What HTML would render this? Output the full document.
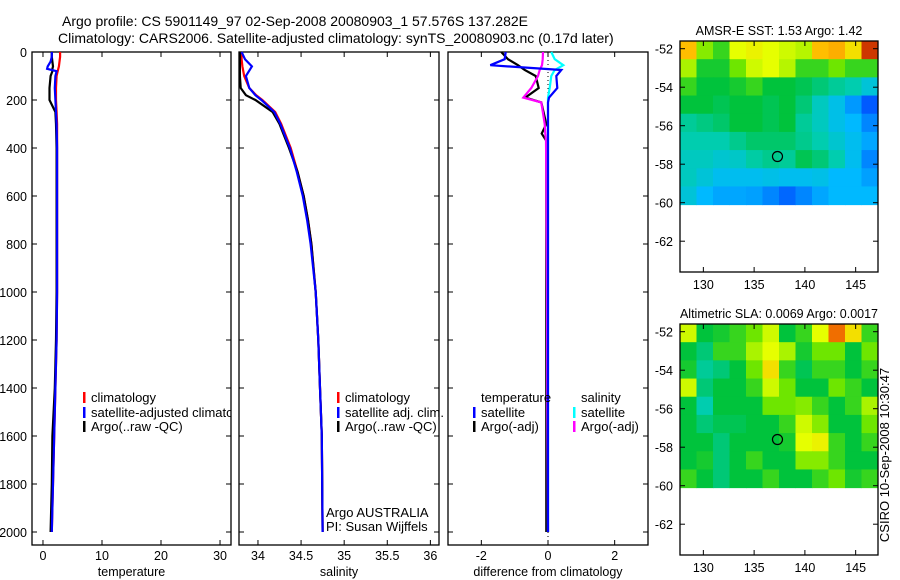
<!DOCTYPE html>
<html><head><meta charset="utf-8"><style>
body{margin:0;background:#fff;}
svg{display:block;font-family:"Liberation Sans",sans-serif;}
</style></head><body>
<svg id="c" width="900" height="580" viewBox="0 0 900 580">
<defs><clipPath id="clipT"><rect x="32" y="52" width="199" height="493"/></clipPath></defs>
<text x="62" y="26" font-size="14">Argo profile: CS 5901149_97 02-Sep-2008 20080903_1 57.576S 137.282E</text>
<text x="58" y="43" font-size="14">Climatology: CARS2006. Satellite-adjusted climatology: synTS_20080903.nc (0.17d later)</text>
<text transform="translate(889,455) rotate(-90)" text-anchor="middle" font-size="13">CSIRO 10-Sep-2008 10:30:47</text>
</svg>
<script>
// ---- data ----
const tDepth=[0,20,40,60,70,80,100,150,200,250,300,400,600,800,1000,1200,1400,1600,1800,2000];
const tClim=[2.9,2.9,2.8,2.7,2.6,2.5,2.3,2.2,2.2,2.3,2.4,2.4,2.4,2.4,2.4,2.3,2.1,1.9,1.7,1.5];
const tSat=[1.5,1.5,1.3,0.8,0.7,2.3,2.1,2.0,2.1,2.2,2.3,2.4,2.4,2.4,2.4,2.3,2.1,1.9,1.7,1.5];
const tArgo=[1.5,1.5,1.6,1.7,1.6,1.6,1.3,1.1,1.1,2.1,2.2,2.3,2.3,2.3,2.3,2.2,2.0,1.6,1.5,1.3];
const sDepth=[0,30,60,100,150,180,200,250,300,400,500,600,700,800,1000,1200,1400,1600,2000];
const sClim=[33.81,33.81,33.82,33.84,33.9,33.98,34.05,34.2,34.27,34.38,34.46,34.53,34.58,34.62,34.67,34.70,34.72,34.74,34.75];
const sSat=[33.81,33.85,33.93,33.86,33.9,33.97,34.04,34.19,34.26,34.37,34.45,34.52,34.57,34.61,34.67,34.70,34.72,34.74,34.75];
const sArgo=[33.79,33.79,33.79,33.79,33.8,33.86,33.97,34.17,34.25,34.36,34.46,34.53,34.58,34.62,34.67,34.70,34.72,34.74,34.75];
const dDepth=[0,30,55,75,100,150,190,210,300,340,370,500,1000,1500,2000];
const dTsat=[-1.27,-1.3,-1.73,0.4,0.25,0.28,0.03,0,0,0,0,0,0,0,0];
const dTargo=[-1.4,-1.2,-0.9,-0.7,-0.37,-0.28,-0.68,-0.2,-0.05,-0.19,-0.05,-0.05,-0.05,-0.05,-0.05];
const dSsat=[0.1,0.2,0.46,0.2,0.1,0.05,0,0,0,0,0,0,0,0,0];
const dSargo=[-0.15,-0.16,-0.18,-0.25,-0.3,-0.5,-0.74,-0.2,-0.1,-0.08,-0.06,-0.05,-0.03,-0.02,0];
const depthTicks=[0,200,400,600,800,1000,1200,1400,1600,1800,2000];
const tTicks=[0,10,20,30];
const sTicks=[34,34.5,35,35.5,36];
const dTicks=[-2,0,2];
const latTicks=[-52,-54,-56,-58,-60,-62];
const lonTicks=[130,135,140,145];
const sstGrid=[
[0.8,0.62,0.55,0.7,0.72,0.7,0.68,0.66,0.8,0.82,0.75,0.95],
[0.65,0.52,0.52,0.6,0.68,0.7,0.66,0.55,0.55,0.6,0.55,0.55],
[0.55,0.5,0.5,0.52,0.55,0.5,0.5,0.48,0.45,0.42,0.4,0.35],
[0.5,0.5,0.48,0.5,0.5,0.48,0.5,0.45,0.38,0.33,0.25,0.15],
[0.42,0.44,0.46,0.5,0.5,0.48,0.5,0.42,0.38,0.33,0.3,0.22],
[0.4,0.4,0.4,0.43,0.46,0.46,0.46,0.43,0.4,0.36,0.32,0.27],
[0.38,0.38,0.36,0.37,0.41,0.43,0.42,0.48,0.45,0.4,0.32,0.22],
[0.38,0.35,0.32,0.32,0.32,0.33,0.32,0.32,0.33,0.3,0.3,0.26],
[0.35,0.3,0.27,0.27,0.26,0.22,0.17,0.22,0.27,0.3,0.3,0.3]];
const slaGrid=[
[0.68,0.5,0.52,0.55,0.6,0.68,0.5,0.55,0.7,0.9,0.75,0.55],
[0.5,0.45,0.55,0.55,0.65,0.7,0.65,0.52,0.6,0.6,0.5,0.6],
[0.52,0.42,0.45,0.5,0.6,0.75,0.55,0.48,0.55,0.55,0.5,0.55],
[0.68,0.45,0.5,0.5,0.55,0.68,0.6,0.5,0.5,0.6,0.55,0.5],
[0.5,0.4,0.5,0.5,0.5,0.6,0.6,0.62,0.55,0.5,0.55,0.65],
[0.5,0.45,0.48,0.48,0.5,0.5,0.55,0.68,0.62,0.5,0.5,0.6],
[0.5,0.5,0.45,0.5,0.5,0.5,0.52,0.7,0.72,0.55,0.5,0.55],
[0.5,0.52,0.45,0.5,0.55,0.5,0.5,0.62,0.62,0.55,0.5,0.5],
[0.55,0.5,0.45,0.5,0.5,0.55,0.5,0.5,0.55,0.6,0.52,0.55]];
const floatLon=137.3, floatLat=-57.6;

const NS="http://www.w3.org/2000/svg";
const svg=document.getElementById('c');
function mk(tag,attrs,parent){const e=document.createElementNS(NS,tag);for(const k in attrs)e.setAttribute(k,attrs[k]);(parent||svg).appendChild(e);return e;}
function txt(x,y,s,size,anchor,parent){const e=mk('text',{x:x,y:y,'font-size':size,'text-anchor':anchor||'start'},parent);e.textContent=s;return e;}

const PT=52,PB=545;
const yD=d=>52+d*0.24;

function panel(name,x0,x1,dmin,dmax,ticks,fmt,title,showY){
  const g=mk('g',{});
  
  
  const xs=v=>x0+(v-dmin)/(dmax-dmin)*(x1-x0);
  const r=mk('rect',{x:x0,y:PT,width:x1-x0,height:PB-PT,fill:'none',stroke:'#000','stroke-width':1.3},g);
  
  
  ticks.forEach(t=>{const X=xs(t);
    mk('line',{x1:X,y1:PB,x2:X,y2:PB-5,stroke:'#000'},g);
    mk('line',{x1:X,y1:PT,x2:X,y2:PT+5,stroke:'#000'},g);
    const l=txt(X,560,fmt(t),12.5,'middle',g);
    
    });
  depthTicks.forEach(d=>{const Y=yD(d);
    mk('line',{x1:x0,y1:Y,x2:x0+5,y2:Y,stroke:'#000'},g);
    mk('line',{x1:x1,y1:Y,x2:x1-5,y2:Y,stroke:'#000'},g);
    if(showY){const l=txt(27,Y+5,String(d),12.5,'end',g);
      
      }});
  const t=txt((x0+x1)/2,576,title,12.5,'middle',g);
  
  
  return {g,xs};
}
function line(p,vals,depths,color,name){
  const pts=vals.map((v,i)=>p.xs(v).toFixed(1)+','+yD(depths[i]).toFixed(1)).join(' ');
  const e=mk('polyline',{points:pts,fill:'none',stroke:color,'stroke-width':2.2},p.g);
  
  
}
function legend(p,x,y,color,label,name,clip){
  mk('rect',{x:x,y:y-10,width:2.5,height:11,fill:color},p.g);
  const t=txt(x+8,y,label,13,'start',p.g);
  if(clip)t.setAttribute('clip-path','url(#clipT)');
  
  
}

const p1=panel('temperature-panel',32,231,-1.86,31.86,tTicks,String,'temperature',true);
line(p1,tClim,tDepth,'#f00','temp-climatology-line');
line(p1,tArgo,tDepth,'#000','temp-argo-line');
line(p1,tSat,tDepth,'#00f','temp-satellite-line');
legend(p1,83,402,'#f00','climatology','legend-climatology');
legend(p1,83,417,'#00f','satellite-adjusted climatology','legend-satellite-adjusted',true);
legend(p1,83,431,'#000','Argo(..raw -QC)','legend-argo');

const p2=panel('salinity-panel',239,439,33.78,36.1,sTicks,String,'salinity',false);
line(p2,sClim,sDepth,'#f00','sal-climatology-line');
line(p2,sArgo,sDepth,'#000','sal-argo-line');
line(p2,sSat,sDepth,'#00f','sal-satellite-line');
legend(p2,337,402,'#f00','climatology','legend-sal-climatology');
legend(p2,337,417,'#00f','satellite adj. clim.','legend-sal-satellite');
legend(p2,337,431,'#000','Argo(..raw -QC)','legend-sal-argo');
let a=txt(326,517,'Argo AUSTRALIA',13,'start',p2.g);


a=txt(326,531,'PI: Susan Wijffels',13,'start',p2.g);



const p3=panel('difference-panel',448,648,-3,3,dTicks,String,'difference from climatology',false);
mk('line',{x1:p3.xs(0),y1:PT,x2:p3.xs(0),y2:PB,stroke:'#000','stroke-dasharray':'1,3'},p3.g);
line(p3,dTargo,dDepth,'#000','diff-temp-argo-line');
line(p3,dSargo,dDepth,'#f0f','diff-sal-argo-line');
line(p3,dSsat,dDepth,'#0ff','diff-sal-satellite-line');
line(p3,dTsat,dDepth,'#00f','diff-temp-satellite-line');
a=txt(481,402,'temperature',13,'start',p3.g);


a=txt(581,402,'salinity',13,'start',p3.g);


legend(p3,473,417,'#00f','satellite','legend-diff-temp-satellite');
legend(p3,473,431,'#000','Argo(-adj)','legend-diff-temp-argo');
legend(p3,573,417,'#0ff','satellite','legend-diff-sal-satellite');
legend(p3,573,431,'#f0f','Argo(-adj)','legend-diff-sal-argo');

// colormap
const stops=[[0,[0,0,170]],[0.15,[0,90,255]],[0.3,[0,185,255]],[0.4,[0,205,175]],[0.5,[0,195,60]],[0.6,[110,230,0]],[0.7,[230,255,0]],[0.8,[255,190,0]],[0.9,[240,110,0]],[1,[170,0,0]]];
function cmap(v){for(let i=1;i<stops.length;i++){if(v<=stops[i][0]){const[a0,c0]=stops[i-1],[a1,c1]=stops[i];const f=(v-a0)/(a1-a0);return 'rgb('+c0.map((c,k)=>Math.round(c+(c1[k]-c)*f)).join(',')+')';}}return 'rgb(170,0,0)';}

function map(name,top,title,grid){
  const g=mk('g',{});
  
  
  const L=680,R=878,B=top+231;
  const lon=v=>L+(v-127.7)/(147.2-127.7)*(R-L);
  const lat=v=>top+(-51.6-v)/(63.6-51.6)*(B-top);
  const rows=grid.length,cols=grid[0].length;
  const dLon=(147.2-127.7)/cols,dLat=(60.1-51.6)/rows;
  grid.forEach((row,i)=>row.forEach((v,j)=>{
    const x=lon(127.7+j*dLon),y=lat(-51.6-i*dLat);
    const c=mk('rect',{x:x,y:y,width:lon(127.7+(j+1)*dLon)-x+0.5,height:lat(-51.6-(i+1)*dLat)-y+0.5,fill:cmap(v)},g);
    
    
  }));
  mk('rect',{x:L,y:top,width:R-L,height:B-top,fill:'none',stroke:'#000','stroke-width':1.3},g);
  latTicks.forEach(t=>{const Y=lat(t);
    mk('line',{x1:L,y1:Y,x2:L+5,y2:Y,stroke:'#000'},g);mk('line',{x1:R,y1:Y,x2:R-5,y2:Y,stroke:'#000'},g);
    const l=txt(673,Y+5,String(t),12.5,'end',g);
    
    });
  lonTicks.forEach(t=>{const X=lon(t);
    mk('line',{x1:X,y1:B,x2:X,y2:B-5,stroke:'#000'},g);mk('line',{x1:X,y1:top,x2:X,y2:top+5,stroke:'#000'},g);
    const l=txt(X,B+17,String(t),12.5,'middle',g);
    
    });
  const c=mk('circle',{cx:lon(floatLon),cy:lat(floatLat),r:5,fill:'none',stroke:'#000','stroke-width':1.2},g);
  
  
  const t=txt(779,top-6,title,12.5,'middle',g);
  
  
}
map('sst-map',41,'AMSR-E SST: 1.53 Argo: 1.42',sstGrid);
map('sla-map',324,'Altimetric SLA: 0.0069 Argo: 0.0017',slaGrid);
</script>
</body></html>
